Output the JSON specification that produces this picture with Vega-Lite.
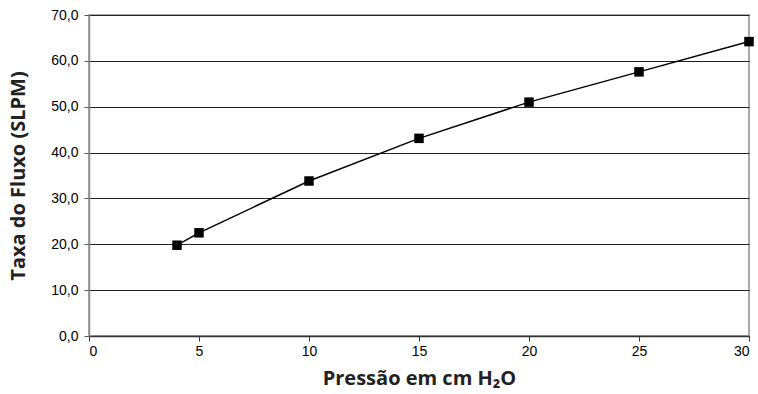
{
  "$schema": "https://vega.github.io/schema/vega-lite/v6.json",
  "width": 660,
  "height": 321,
  "autosize": "none",
  "padding": {"left": 89, "top": 15, "right": 9, "bottom": 58},
  "background": "white",
  "config": {"view": {"stroke": "#8c8c8c", "strokeWidth": 1.5}},
  "data": {"values": [
    {"pressao": 4, "fluxo": 19.8},
    {"pressao": 5, "fluxo": 22.5},
    {"pressao": 10, "fluxo": 33.8},
    {"pressao": 15, "fluxo": 43.1},
    {"pressao": 20, "fluxo": 51.0},
    {"pressao": 25, "fluxo": 57.6},
    {"pressao": 30, "fluxo": 64.2}
  ]},
  "encoding": {
    "x": {"field": "pressao", "type": "quantitative",
      "scale": {"domain": [0, 30], "nice": false},
      "axis": {"values": [0, 5, 10, 15, 20, 25, 30], "grid": false, "domainColor": "#333", "domainWidth": 1.5, "tickColor": "#333", "tickSize": 5,
        "labelFont": "Liberation Sans", "labelFontSize": 14, "labelColor": "#000", "labelPadding": 3,
        "title": "Pressão em cm H₂O", "titleFont": "Open Sans", "titleFontSize": 20, "titleFontWeight": "bold", "titleColor": "#222", "titlePadding": 10}},
    "y": {"field": "fluxo", "type": "quantitative",
      "scale": {"domain": [0, 70], "nice": false},
      "axis": {"values": [0, 10, 20, 30, 40, 50, 60, 70], "grid": true, "gridColor": "#222", "gridWidth": 1,
        "domainColor": "#8c8c8c", "domainWidth": 1.5, "tickColor": "#555", "tickSize": 5,
        "labelExpr": "replace(format(datum.value, '.1f'), '.', ',')",
        "labelFont": "Liberation Sans", "labelFontSize": 14, "labelColor": "#000", "labelPadding": 6,
        "title": "Taxa do Fluxo (SLPM)", "titleFont": "Open Sans", "titleFontSize": 20, "titleFontWeight": "bold", "titleColor": "#222", "titlePadding": 22}}
  },
  "layer": [
    {"mark": {"type": "line", "color": "#000", "strokeWidth": 1.5}},
    {"mark": {"type": "square", "color": "#000", "opacity": 1, "size": 90, "filled": true}}
  ]
}
